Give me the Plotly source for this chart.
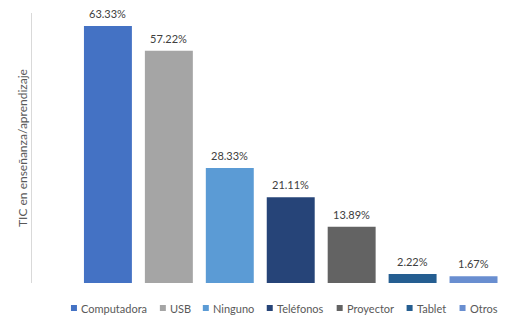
import plotly.graph_objects as go

# Recursos TIC usados en enseñanza/aprendizaje (porcentaje de respuestas)
categories = ["Computadora", "USB", "Ninguno", "Teléfonos", "Proyector", "Tablet", "Otros"]
values = [63.33, 57.22, 28.33, 21.11, 13.89, 2.22, 1.67]
colors = ["#4472C4", "#A5A5A5", "#5B9BD5", "#264478", "#636363", "#255E91", "#698ED0"]
y_title = "TIC en enseñanza/aprendizaje"

W, H = 512, 326
L, R, T, B = 32, 7.5, 13, 43
plot_w = W - L - R
plot_h = H - T - B
FONT = "Lato"


def px_x(px):
    return (px - L) / plot_w


def px_y(py):
    return (H - B - py) / plot_h


fig = go.Figure()
for i, (cat, val, col) in enumerate(zip(categories, values, colors)):
    fig.add_trace(go.Bar(
        x=[i], y=[val], name=cat, width=0.787,
        marker=dict(color=col, line=dict(width=0)),
        showlegend=False, hoverinfo="skip",
    ))
    fig.add_annotation(
        x=i, y=val, xref="x", yref="y", text=f"{val:.2f}%",
        showarrow=False, yanchor="bottom", yshift=4,
        font=dict(family=FONT, size=11, color="#404040"),
    )

# legend row: coloured square + label
legend_sq = [71, 160, 203, 267, 337, 407, 460]
for cat, col, sx in zip(categories, colors, legend_sq):
    fig.add_shape(
        type="rect", xref="paper", yref="paper",
        x0=px_x(sx), x1=px_x(sx + 6), y0=px_y(311), y1=px_y(305),
        fillcolor=col, line=dict(width=0),
    )
    fig.add_annotation(
        x=px_x(sx + 8), y=px_y(308), xref="paper", yref="paper",
        text=cat, showarrow=False, xanchor="left", yanchor="middle",
        font=dict(family=FONT, size=11, color="#595959"),
    )

fig.add_annotation(
    x=px_x(22), y=0.5, xref="paper", yref="paper", text=y_title,
    textangle=-90, showarrow=False, xanchor="center", yanchor="middle",
    font=dict(family=FONT, size=12, color="#595959"),
)

fig.update_layout(
    width=W, height=H,
    margin=dict(l=L, r=R, t=T, b=B, autoexpand=False),
    paper_bgcolor="white", plot_bgcolor="white",
    barmode="overlay", showlegend=False,
    xaxis=dict(range=[-1.246, 6.5], showticklabels=False, showgrid=False,
               zeroline=False, showline=False, ticks=""),
    yaxis=dict(range=[0, plot_h / 4.058], showticklabels=False, showgrid=False,
               zeroline=False, showline=True, linecolor="#D9D9D9", linewidth=1,
               ticks=""),
)

fig.write_html("out.html")
